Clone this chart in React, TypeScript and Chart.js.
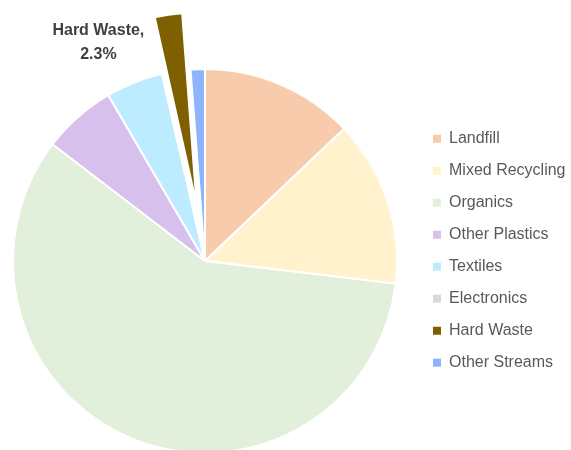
import React, { useEffect, useRef } from "react";
import { Chart, registerables } from "chart.js";

Chart.register(...registerables);

const categories = [
  "Landfill",
  "Mixed Recycling",
  "Organics",
  "Other Plastics",
  "Textiles",
  "Electronics",
  "Hard Waste",
  "Other Streams",
];
const shares = [12.9, 14.0, 58.5, 6.2, 4.8, 0.1, 2.3, 1.2];
const sliceColors = [
  "#F8CBAD",
  "#FFF2CC",
  "#E2EFDA",
  "#D7C0EB",
  "#BDEBFF",
  "#D9D9D9",
  "#7F6000",
  "#8EB4FE",
];
const explodedIndex = 6;

const FONT = "'Liberation Sans', Arial, sans-serif";
const EXPLODE_PX = 57;

const explodePlugin = {
  id: "explodeSlice",
  afterDatasetsUpdate(chart: any) {
    const meta = chart.getDatasetMeta(0);
    const el: any = meta.data[explodedIndex];
    if (!el) return;
    const mid = (el.startAngle + el.endAngle) / 2;
    el.x += Math.cos(mid) * EXPLODE_PX;
    el.y += Math.sin(mid) * EXPLODE_PX;
  },
  afterDatasetsDraw(chart: any) {
    const meta = chart.getDatasetMeta(0);
    const el: any = meta.data[explodedIndex];
    if (!el) return;
    const mid = (el.startAngle + el.endAngle) / 2;
    const ax = el.x + Math.cos(mid) * el.outerRadius;
    const ay = el.y + Math.sin(mid) * el.outerRadius;
    const total = shares.reduce((a, b) => a + b, 0);
    const pct = ((shares[explodedIndex] / total) * 100).toFixed(1) + "%";
    const ctx = chart.ctx;
    ctx.save();
    ctx.font = `bold 16px ${FONT}`;
    ctx.fillStyle = "#404040";
    ctx.textAlign = "center";
    ctx.textBaseline = "alphabetic";
    const cx = ax - 70;
    ctx.fillText(categories[explodedIndex] + ",", cx, ay + 19.8);
    ctx.fillText(pct, cx, ay + 43.8);
    ctx.restore();
  },
};

export default function App() {
  const ref = useRef<HTMLCanvasElement>(null);
  useEffect(() => {
    if (!ref.current) return;
    const chart = new Chart(ref.current, {
      type: "pie",
      data: {
        labels: categories,
        datasets: [
          {
            data: shares,
            backgroundColor: sliceColors,
            borderColor: "#FFFFFF",
            borderWidth: 2,
            radius: 192,
          } as any,
        ],
      },
      options: {
        responsive: false,
        animation: false,
        events: [],
        layout: { padding: { left: 0, right: 0, top: 51.5, bottom: 0 } },
        plugins: {
          title: {
            display: true,
            text: "",
            font: { size: 10, lineHeight: 1 },
            padding: { top: 10.5, bottom: 0 },
          },
          tooltip: { enabled: false },
          legend: {
            position: "right",
            maxWidth: 154,
            labels: {
              boxWidth: 8,
              boxHeight: 8,
              padding: 16,
              color: "#595959",
              font: { size: 16, family: FONT },
              generateLabels: (c: any) =>
                c.data.labels.map((l: string, i: number) => ({
                  text: l,
                  fillStyle: sliceColors[i],
                  strokeStyle: sliceColors[i],
                  lineWidth: 0,
                  hidden: false,
                  index: i,
                  fontColor: "#595959",
                })),
            },
          },
        },
      } as any,
      plugins: [explodePlugin],
    });
    return () => chart.destroy();
  }, []);
  return (
    <div style={{ position: "fixed", left: -7, top: 0, width: 578, height: 450 }}>
      <canvas ref={ref} width={578} height={450} />
    </div>
  );
}
